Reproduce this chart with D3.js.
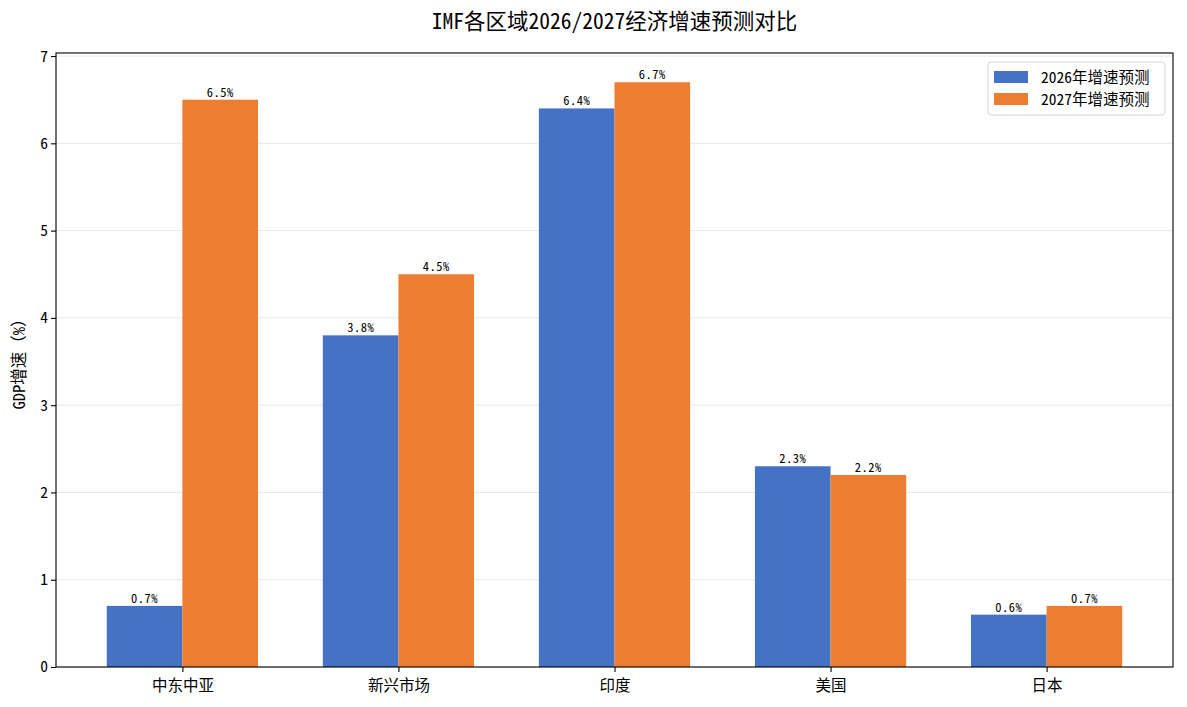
<!DOCTYPE html>
<html>
<head>
<meta charset="utf-8">
<script src="https://cdn.jsdelivr.net/npm/d3@7"></script>
<style>
  body { margin: 0; background: #fff; }
  text { font-family: "Noto Sans Mono CJK SC", "Noto Sans CJK SC", "DejaVu Sans", sans-serif; fill: #000; }
</style>
</head>
<body>
<div id="chart"></div>
<script>
// data
const regions = ['中东中亚', '新兴市场', '印度', '美国', '日本'];
const growth2026 = [0.7, 3.8, 6.4, 2.3, 0.6];
const growth2027 = [6.5, 4.5, 6.7, 2.2, 0.7];
const seriesNames = ['2026年增速预测', '2027年增速预测'];
const yTicks = [0, 1, 2, 3, 4, 5, 6, 7];

const colors = ['#4472C4', '#ED7D31'];

const W = 1187, H = 707;
const margin = {top: 53, right: 14, bottom: 40, left: 56};
const width = W - margin.left - margin.right;
const height = H - margin.top - margin.bottom;

const svg = d3.select('#chart').append('svg')
    .attr('width', W)
    .attr('height', H);

const g = svg.append('g')
    .attr('transform', `translate(${margin.left},${margin.top})`);

// scales (bar width 0.35 each, offsets +-0.175)
const barW = 0.35;
const x = d3.scaleLinear()
    .domain([-0.585, regions.length - 1 + 0.585])
    .range([0, width]);

const yMax = d3.max([...growth2026, ...growth2027]) * 1.05;
const y = d3.scaleLinear()
    .domain([0, yMax])
    .range([height, 0]);

// grid
g.append('g')
    .selectAll('line')
    .data(yTicks)
    .join('line')
    .attr('x1', 0)
    .attr('x2', width)
    .attr('y1', d => y(d))
    .attr('y2', d => y(d))
    .attr('stroke', '#b0b0b0')
    .attr('stroke-opacity', 0.3)
    .attr('stroke-width', 1);

// bars
const series = [growth2026, growth2027];
series.forEach((vals, s) => {
    const offset = s === 0 ? -barW / 2 : barW / 2;
    const grp = g.append('g');
    grp.selectAll('rect')
        .data(vals)
        .join('rect')
        .attr('x', (d, i) => x(i + offset - barW / 2))
        .attr('width', x(barW) - x(0))
        .attr('y', d => y(d))
        .attr('height', d => height - y(d))
        .attr('fill', colors[s]);

    grp.selectAll('text')
        .data(vals)
        .join('text')
        .attr('x', (d, i) => x(i + offset))
        .attr('y', d => y(d) - 3)
        .attr('text-anchor', 'middle')
        .style('font-size', '12.5px')
        .style('letter-spacing', '0.5px')
        .text(d => d.toFixed(1) + '%');
});

// axes
const xAxis = g.append('g')
    .attr('transform', `translate(0,${height})`)
    .call(d3.axisBottom(x).tickValues(d3.range(regions.length)).tickFormat(i => regions[i]).tickSize(5).tickSizeOuter(0));
xAxis.select('.domain').remove();
xAxis.selectAll('line').attr('stroke-width', 1.1);
xAxis.selectAll('text').style('font-size', '15.5px').attr('dy', '1.0em');

const yAxis = g.append('g')
    .call(d3.axisLeft(y).tickValues(yTicks).tickFormat(d3.format('d')).tickSize(5).tickSizeOuter(0));
yAxis.select('.domain').remove();
yAxis.selectAll('line').attr('stroke-width', 1.1);
yAxis.selectAll('text').style('font-size', '15.5px');

// frame
g.append('rect')
    .attr('width', width)
    .attr('height', height)
    .attr('fill', 'none')
    .attr('stroke', '#000')
    .attr('stroke-width', 1.1);

// y label
svg.append('text')
    .attr('transform', `translate(25,${margin.top + height / 2}) rotate(-90)`)
    .attr('text-anchor', 'middle')
    .style('font-size', '16.5px')
    .text('GDP增速（%）');

// title
svg.append('text')
    .attr('x', margin.left + width / 2)
    .attr('y', 29)
    .attr('text-anchor', 'middle')
    .style('font-size', '21.5px')
    .text('IMF各区域2026/2027经济增速预测对比');

// legend
const legend = g.append('g')
    .attr('transform', `translate(${width - 185},9)`);
legend.append('rect')
    .attr('width', 177)
    .attr('height', 53)
    .attr('rx', 3)
    .attr('fill', '#fff')
    .attr('fill-opacity', 0.8)
    .attr('stroke', '#d6d6d6');
seriesNames.forEach((name, i) => {
    legend.append('rect')
        .attr('x', 6)
        .attr('y', 9 + i * 22)
        .attr('width', 34)
        .attr('height', 12)
        .attr('fill', colors[i]);
    legend.append('text')
        .attr('x', 53)
        .attr('y', 21 + i * 22)
        .style('font-size', '15.5px')
        .text(name);
});
</script>
</body>
</html>
